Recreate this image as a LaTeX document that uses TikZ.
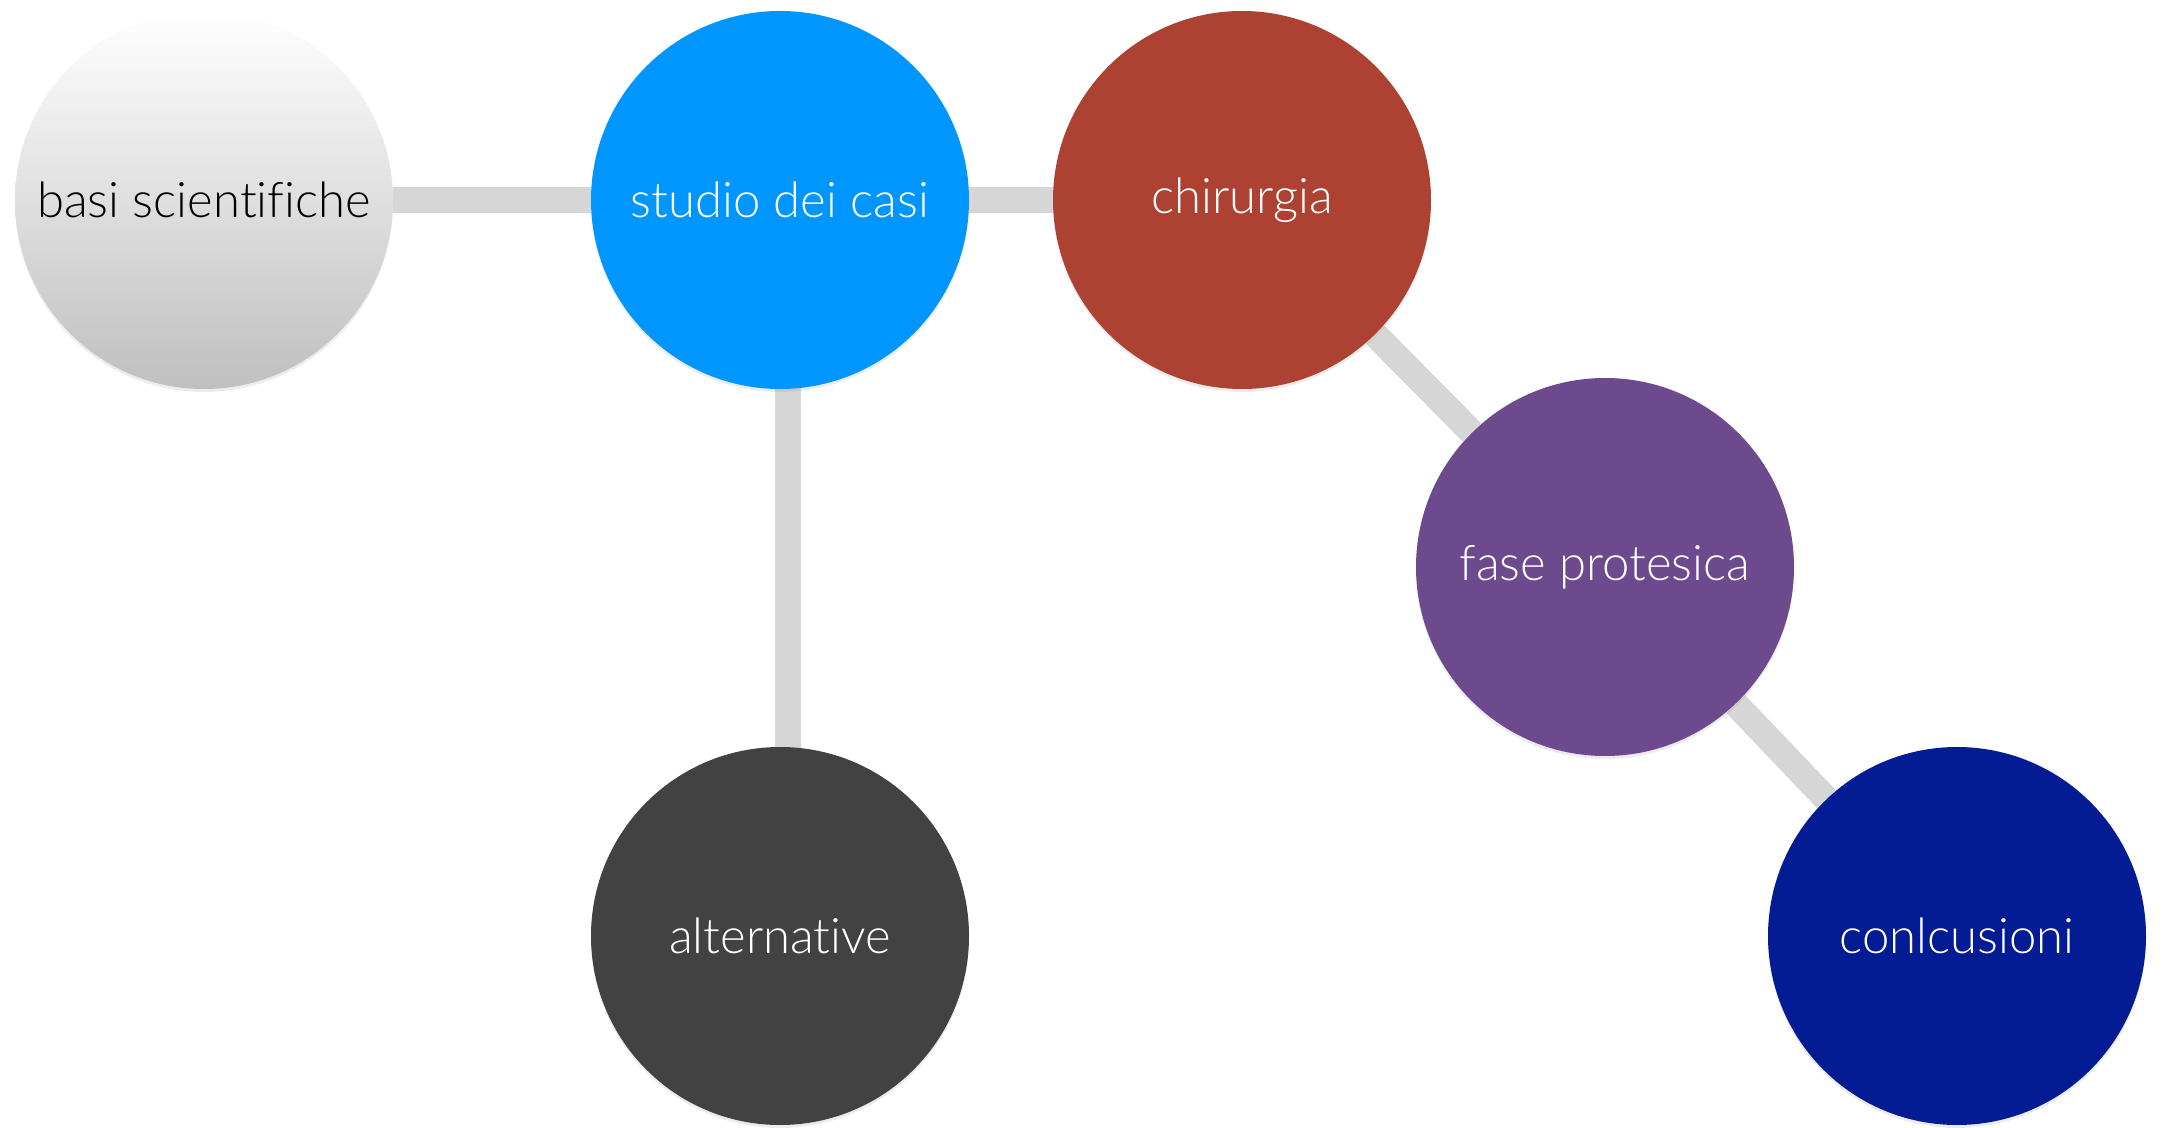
\documentclass[tikz,border=0pt]{standalone}
\usepackage{fontspec}
\setmainfont{Lato Light}[Ligatures={NoCommon}]
\usetikzlibrary{backgrounds,shadows}
\definecolor{linkgray}{HTML}{D6D6D6}
\definecolor{studioblue}{HTML}{0096FF}
\definecolor{chirred}{HTML}{AD4233}
\definecolor{protpurple}{HTML}{6C4A8D}
\definecolor{concnavy}{HTML}{031C94}
\definecolor{altgray}{HTML}{424242}
\tikzset{
  bubble/.style={circle, minimum size=189pt, inner sep=0pt, font=\fontsize{24.5}{28}\selectfont, text=white,
    drop shadow={opacity=0.15, shadow xshift=0pt, shadow yshift=-1.5pt}},
  link/.style={draw=linkgray, line width=13pt}
}
\begin{document}
\begin{tikzpicture}[x=0.5pt,y=-0.5pt]
\useasboundingbox (0,0) rectangle (2164,1128);
\node[bubble, top color=white, bottom color=black!25, text=black] (basi) at (204,200) {basi scientifiche};
\node[bubble, fill=studioblue] (studio) at (780,200) {studio dei casi};
\node[bubble, fill=chirred] (chir) at (1242,200) {chirurgia};
\node[bubble, fill=protpurple] (fase) at (1605,567) {fase protesica};
\node[bubble, fill=concnavy] (conc) at (1957,936) {conlcusioni};
\node[bubble, fill=altgray] (alt) at (780,936) {alternative};
\begin{pgfonlayer}{background}
\draw[link] (basi) -- (studio);
\draw[link] (studio) -- (chir);
\draw[link] (chir) -- (fase);
\draw[link] (fase) -- (conc);
\draw[link] ([xshift=4pt]studio.center) -- ([xshift=4pt]alt.center);
\end{pgfonlayer}
\end{tikzpicture}
\end{document}
